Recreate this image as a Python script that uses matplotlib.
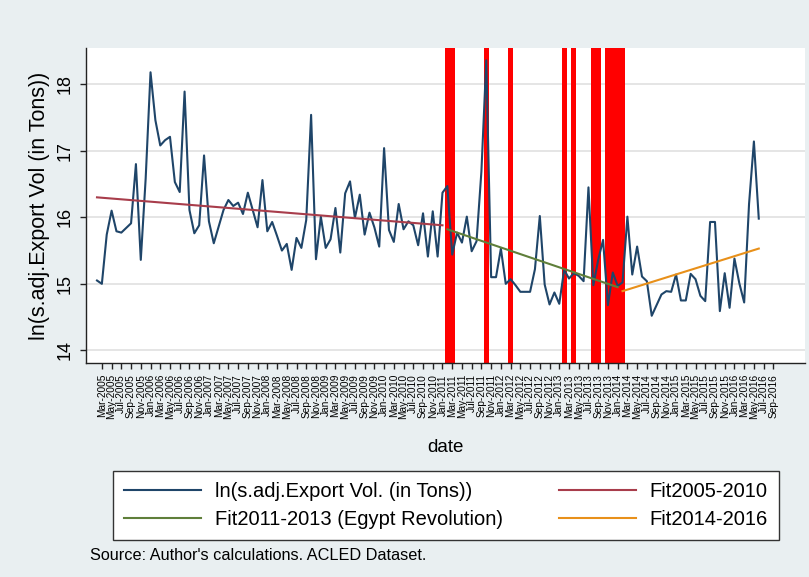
import matplotlib
matplotlib.use("Agg")
import matplotlib.pyplot as plt
import numpy as np
import pandas as pd

plt.rcParams['font.family'] = ['Liberation Sans', 'DejaVu Sans']

# Monthly series, Feb-2005 .. Jun-2016
start_month = "2005-02"
export_vol = [
    15.05, 15.00, 15.74, 16.10, 15.79, 15.77, 15.84, 15.91, 16.80, 15.36,
    16.58, 18.18, 17.46, 17.08, 17.16, 17.21, 16.53, 16.38, 17.89, 16.11,
    15.76, 15.88, 16.93, 15.94, 15.61, 15.86, 16.11, 16.26, 16.17, 16.22,
    16.05, 16.37, 16.11, 15.85, 16.56, 15.79, 15.93, 15.72, 15.50, 15.60,
    15.21, 15.69, 15.54, 15.96, 17.54, 15.37, 16.01, 15.54, 15.67, 16.14,
    15.47, 16.36, 16.54, 15.99, 16.34, 15.74, 16.07, 15.85, 15.56, 17.04,
    15.81, 15.63, 16.20, 15.82, 15.94, 15.88, 15.58, 16.06, 15.41, 16.09,
    15.41, 16.37, 16.47, 15.44, 15.77, 15.62, 16.01, 15.49, 15.64, 16.69,
    18.36, 15.10, 15.10, 15.53, 15.00, 15.07, 14.98, 14.88, 14.88, 14.88,
    15.22, 16.02, 14.99, 14.69, 14.87, 14.70, 15.21, 15.08, 15.16, 15.12,
    15.04, 16.45, 14.98, 15.36, 15.66, 14.68, 15.17, 14.97, 15.02, 16.01,
    15.14, 15.56, 15.11, 15.04, 14.52, 14.68, 14.84, 14.89, 14.88, 15.14,
    14.75, 14.75, 15.15, 15.07, 14.82, 14.74, 15.93, 15.93, 14.59, 15.16,
    14.64, 15.38, 15.01, 14.72, 16.20, 17.14, 15.98,
]

# Linear trends: (first month, last month, value at first, value at last)
fit_labels = ["Fit2005-2010", "Fit2011-2013 (Egypt Revolution)", "Fit2014-2016"]
fit_start = ["2005-02", "2011-02", "2014-02"]
fit_end = ["2011-01", "2014-01", "2016-06"]
fit_v0 = [16.30, 15.82, 14.89]
fit_v1 = [15.88, 14.95, 15.53]
fit_colors = ["#a83d4b", "#5f7f3a", "#e8901a"]

# Months with major unrest events
event_months = ["2011-02", "2011-03", "2011-10", "2012-03", "2013-02", "2013-04",
                "2013-08", "2013-09", "2013-11", "2013-12", "2014-01", "2014-02"]

tick_first, tick_last = "2005-03", "2016-09"
yticks = [14, 15, 16, 17, 18]


def month_num(p):
    p = pd.Period(p, freq="M")
    return (p.year - 2005) * 12 + (p.month - 1)


periods = pd.period_range(start_month, periods=len(export_vol), freq="M")
x = np.array([(p.year - 2005) * 12 + p.month - 1 for p in periods])

fig = plt.figure(figsize=(8.09, 5.77), dpi=100)
fig.patch.set_facecolor("#e9eff1")
ax = fig.add_axes([86 / 809, 1 - 363 / 577, (805 - 86) / 809, (363 - 48) / 577])
ax.set_facecolor("white")

for m in event_months:
    c = month_num(m)
    ax.axvspan(c - 0.5, c + 0.5, color="#ff0000", lw=0, zorder=1.5)

data_line, = ax.plot(x, export_vol, color="#1f4569", lw=1.5, zorder=3)

fit_handles = []
for lab, s, e, v0, v1, col in zip(fit_labels, fit_start, fit_end, fit_v0, fit_v1, fit_colors):
    h, = ax.plot([month_num(s), month_num(e)], [v0, v1], color=col, lw=1.5, zorder=4)
    fit_handles.append(h)

ax.set_xlim(-1.26, 146.5)
ax.set_ylim(13.81, 18.545)

ax.set_yticks(yticks)
ax.set_yticklabels([str(v) for v in yticks], rotation=90, va="center", fontsize=13)
ax.yaxis.grid(True, color="#e3e3e3", lw=1.3, zorder=0)
ax.set_axisbelow(True)

ticks = pd.period_range(tick_first, tick_last, freq="2M")
ax.set_xticks([(p.year - 2005) * 12 + p.month - 1 for p in ticks])
ax.set_xticklabels([p.strftime("%b-%Y") for p in ticks], rotation=90, fontsize=7.3)

ax.tick_params(direction="out", length=4, width=1, color="#222222")
ax.tick_params(axis="x", pad=4)
ax.tick_params(axis="y", pad=5)
for side in ("top", "right"):
    ax.spines[side].set_visible(False)
for side in ("left", "bottom"):
    ax.spines[side].set_color("#222222")
    ax.spines[side].set_linewidth(1)

ax.set_ylabel("ln(s.adj.Export Vol (in Tons))", fontsize=15.5, labelpad=5)
ax.set_xlabel("date", fontsize=13.5, labelpad=14)

handles = [data_line, fit_handles[1], fit_handles[0], fit_handles[2]]
labels = ["ln(s.adj.Export Vol. (in Tons))", fit_labels[1], fit_labels[0], fit_labels[2]]
leg = fig.legend(handles, labels, ncol=2, mode="expand",
                 loc="lower left",
                 bbox_to_anchor=(113 / 809, 1 - 540 / 577, (779 - 113) / 809, 67 / 577),
                 fontsize=14.5, handlelength=3.8, handletextpad=0.7,
                 frameon=True, fancybox=False, framealpha=1, borderpad=0.55,
                 labelspacing=0.42, borderaxespad=0)
leg.get_frame().set_edgecolor("#333333")
leg.get_frame().set_linewidth(1)

fig.text(90 / 809, 1 - 555 / 577, "Source: Author's calculations. ACLED Dataset.",
         fontsize=11.7, va="center", ha="left")

fig.savefig("out.png", dpi=100, facecolor=fig.get_facecolor())
